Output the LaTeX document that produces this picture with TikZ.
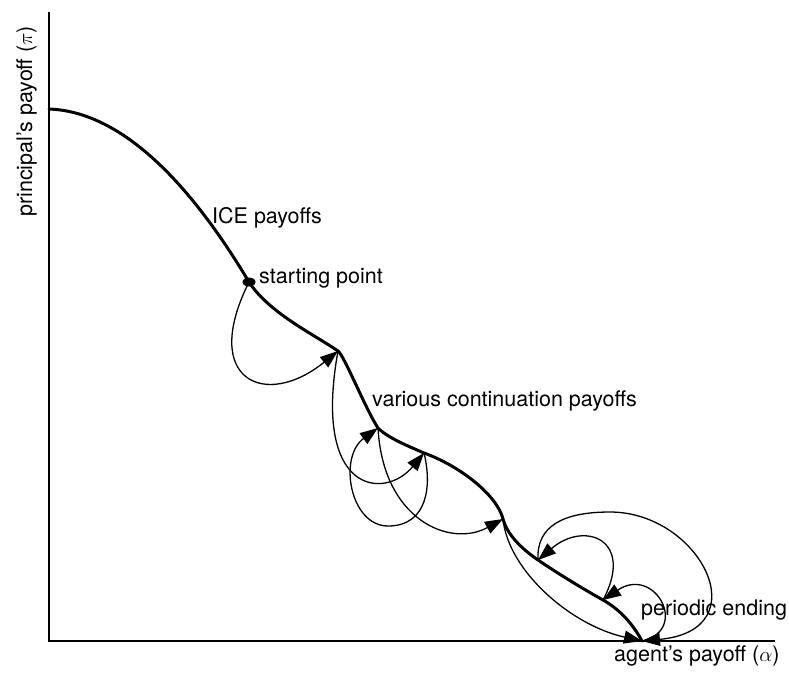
\documentclass[tikz,border=0pt]{standalone}
\usepackage{fontspec}
\setmainfont{TeX Gyre Heros}
\usetikzlibrary{arrows.meta}
\newcommand\arrowlw{1.3pt}
\newcommand\curvelw{3pt}

\begin{document}
\begin{tikzpicture}[x=1pt,y=-1pt,
		mycurve/.style={line width=\curvelw,line join=round,line cap=round},
		myarrow/.style={line width=\arrowlw,-{Triangle[length=18pt,width=13pt]}},
		mytext/.style={inner sep=0pt,font=\fontsize{21.5}{24}\selectfont}]
		\useasboundingbox (0,0) rectangle (789,673);
		\coordinate (O) at (49,641);
		\coordinate (ytop) at (49,12);
		\coordinate (xend) at (775,641);
		\coordinate (P) at (49,109);
		\coordinate (S) at (249,282);
		\coordinate (A) at (338,351);
		\coordinate (B) at (378,428);
		\coordinate (C) at (424,453);
		\coordinate (D) at (503,519);
		\coordinate (E) at (538,560);
		\coordinate (F) at (603,600);
		\coordinate (G) at (642,641);
		\draw[line width=1.5pt] (ytop) -- (O) -- (xend);
		\draw[mycurve] (P) .. controls (130,112) and (200,200) .. (S)
			.. controls (269,313) and (315,335) .. (A)
			.. controls (344,355) and (366,410) .. (B)
			.. controls (388,438) and (408,446) .. (C)
			.. controls (460,466) and (497,495) .. (D)
			.. controls (508,537) and (525,551) .. (E)
			.. controls (557,573) and (585,590) .. (F)
			.. controls (621,610) and (634,626) .. (G);
		\fill (S) ellipse [x radius=6.5pt, y radius=4.5pt];
		\node(icelbl)[mytext,anchor=base west] at (212,223) {ICE payoffs};
		\node(startlbl)[mytext,anchor=base west] at (259,283) {starting point};
		\node(contlbl)[mytext,anchor=base west] at (372,406) {various continuation payoffs};
		\node(endlbl)[mytext,anchor=base west] at (641,615) {periodic ending};
		\node(xlbl)[mytext,anchor=base west] at (614,661) {agent's payoff ($\alpha$)};
		\node(ylbl)[mytext,anchor=base west,rotate=90] at (32,217) {principal's payoff ($\pi$)};
		\draw[myarrow] (S) .. controls (200,380) and (265,410) .. (A);
		\draw[myarrow] (A) .. controls (312,495) and (385,500) .. (C);
		\draw[myarrow] (C) .. controls (432,485) and (428,526) .. (388,526) .. controls (350,526) and (338,457) .. (B);
		\draw[myarrow] (B) .. controls (383,520) and (450,548) .. (D);
		\draw[myarrow] (D) .. controls (508,570) and (570,625) .. (G);
		\draw[myarrow] (F) .. controls (635,540) and (585,520) .. (E);
		\draw[myarrow] (G) .. controls (690,630) and (655,565) .. (F);
		\draw[myarrow] (E) .. controls (536,525) and (565,512) .. (610,512) .. controls (700,512) and (760,630) .. (G);
\end{tikzpicture}
\end{document}
